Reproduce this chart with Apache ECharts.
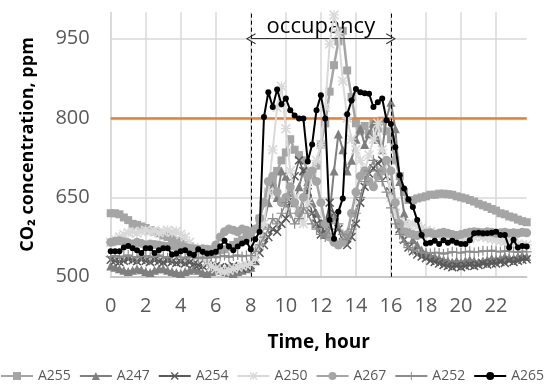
<!DOCTYPE html>
<html>
<head>
<meta charset="utf-8">
<script src="https://cdn.jsdelivr.net/npm/echarts@6/dist/echarts.min.js"></script>
<style>
  html, body { margin: 0; padding: 0; background: #fff; }
  #chart { width: 550px; height: 388px; }
</style>
</head>
<body>
<div id="chart"></div>
<script>
// 15-minute time slots, 0:00 .. 23:45
const times = [];
for (let h = 0; h < 24; h++) {
  ['00', '15', '30', '45'].forEach(m => times.push(h + ':' + m));
}
const hourTicks = ['0', '2', '4', '6', '8', '10', '12', '14', '16', '18', '20', '22'];
const occupancy = ['8:00', '16:00'];
const limitPpm = 800;

const rooms = ['A255', 'A247', 'A254', 'A250', 'A267', 'A252', 'A265'];

const a255 = [
  620, 620, 618, 612, 607, 600, 598, 595, 592, 588, 585, 582, 578, 575, 572, 568, 565, 560, 556, 552, 550, 548, 548, 546,
  548, 550, 552, 556, 560, 566, 570, 575, 580, 590, 610, 640, 660, 680, 700, 720, 735, 760, 740, 730, 720, 700, 690, 710,
  750, 790, 850, 900, 945, 965, 890, 840, 790, 775, 785, 770, 790, 780, 795, 775, 760, 720, 690, 660, 645, 645, 648, 650,
  652, 655, 655, 657, 657, 656, 655, 652, 650, 648, 645, 642, 638, 635, 632, 628, 625, 620, 618, 614, 612, 608, 605, 603
];
const a247 = [
  520, 518, 515, 512, 510, 512, 515, 513, 510, 508, 512, 515, 515, 512, 510, 508, 506, 510, 512, 515, 512, 508, 506, 510,
  512, 515, 510, 508, 506, 510, 512, 515, 518, 530, 560, 600, 640, 680, 650, 700, 690, 660, 640, 670, 700, 680, 640, 620,
  600, 580, 620, 700, 770, 740, 700, 720, 760, 780, 750, 770, 790, 760, 740, 800, 830, 780, 680, 620, 590, 570, 560, 550,
  545, 540, 538, 535, 532, 530, 528, 530, 528, 530, 532, 530, 528, 530, 532, 535, 533, 535, 538, 536, 535, 538, 540, 538
];
const a254 = [
  532, 530, 528, 530, 533, 531, 529, 532, 530, 528, 531, 529, 527, 530, 528, 526, 528, 525, 527, 524, 522, 520, 523, 521,
  520, 518, 515, 518, 520, 517, 515, 518, 522, 530, 545, 560, 575, 590, 585, 600, 610, 640, 690, 720, 700, 660, 620, 600,
  580, 600, 640, 620, 590, 565, 560, 575, 600, 640, 670, 695, 705, 715, 720, 690, 660, 620, 590, 570, 555, 548, 542, 538,
  535, 530, 528, 525, 522, 520, 518, 520, 518, 520, 522, 520, 522, 525, 523, 525, 525, 528, 526, 530, 528, 530, 532, 533
];
const a250 = [
  565, 570, 575, 580, 583, 585, 582, 586, 588, 585, 587, 583, 585, 588, 584, 586, 580, 575, 565, 555, 545, 535, 528, 520,
  515, 512, 510, 512, 515, 518, 520, 522, 525, 535, 560, 600, 660, 740, 820, 860, 780, 700, 650, 620, 600, 640, 700, 720,
  750, 820, 940, 995, 960, 870, 800, 760, 740, 720, 700, 730, 760, 790, 740, 700, 650, 620, 605, 600, 598, 600, 595, 592,
  588, 585, 582, 580, 578, 575, 572, 570, 570, 568, 572, 575, 578, 576, 574, 572, 570, 568, 566, 565, 564, 562, 560, 560
];
const a267 = [
  565, 567, 568, 566, 564, 562, 565, 563, 560, 562, 561, 560, 558, 557, 558, 556, 555, 556, 554, 553, 552, 553, 552, 551,
  560, 575, 585, 590, 588, 585, 590, 588, 585, 590, 610, 640, 680, 690, 660, 640, 650, 670, 640, 620, 650, 690, 700, 680,
  640, 600, 575, 565, 560, 565, 580, 620, 660, 690, 700, 680, 670, 690, 700, 720, 700, 640, 600, 585, 582, 580, 578, 580,
  582, 583, 580, 582, 584, 582, 580, 578, 580, 582, 584, 585, 584, 583, 585, 584, 582, 583, 584, 582, 583, 582, 584, 583
];
const a252 = [
  538, 540, 537, 539, 541, 538, 536, 539, 540, 537, 539, 541, 538, 536, 538, 540, 537, 535, 538, 536, 534, 537, 535, 538,
  536, 538, 540, 537, 539, 541, 538, 540, 540, 548, 560, 575, 590, 610, 600, 620, 640, 620, 600, 610, 630, 620, 600, 590,
  580, 575, 590, 610, 600, 580, 570, 590, 620, 650, 680, 700, 720, 700, 680, 660, 630, 600, 580, 565, 555, 550, 548, 546,
  545, 544, 546, 545, 543, 545, 547, 546, 545, 547, 548, 546, 547, 549, 548, 550, 548, 547, 549, 548, 547, 546, 548, 547
];
const a265 = [
  548, 548, 548, 555, 558, 554, 550, 545, 554, 554, 545, 550, 554, 554, 542, 544, 548, 550, 544, 541, 552, 547, 544, 545,
  547, 557, 568, 557, 550, 557, 563, 566, 552, 571, 585, 802, 849, 821, 854, 826, 837, 815, 805, 799, 799, 718, 750, 815,
  843, 799, 607, 572, 623, 648, 807, 833, 855, 849, 847, 846, 821, 830, 837, 796, 789, 745, 692, 667, 646, 632, 607, 579,
  563, 564, 568, 562, 569, 564, 568, 564, 562, 562, 569, 582, 583, 582, 582, 583, 585, 579, 579, 555, 570, 555, 558, 557
];

const values = [a255, a247, a254, a250, a267, a252, a265];

const X_PATH = 'path://M0,1.2L1.2,0L5,3.8L8.8,0L10,1.2L6.2,5L10,8.8L8.8,10L5,6.2L1.2,10L0,8.8L3.8,5Z';
const PLUS_PATH = 'path://M4.4,0H5.6V4.4H10V5.6H5.6V10H4.4V5.6H0V4.4H4.4Z';
const STAR_PATH = X_PATH + 'M4.4,0H5.6V4.4H10V5.6H5.6V10H4.4V5.6H0V4.4H4.4Z';
const OPEN_ARROW = 'path://M0,10L5,0L10,10L9,10.6L5,2.2L1,10.6Z';

const looks = [
  { color: '#a5a5a5', symbol: 'rect', size: 8, width: 2.5 },
  { color: '#7f7f7f', symbol: 'triangle', size: 9, width: 2 },
  { color: '#595959', symbol: X_PATH, size: 9, width: 1.5 },
  { color: '#d9d9d9', symbol: STAR_PATH, size: 10, width: 2 },
  { color: '#a5a5a5', symbol: 'circle', size: 9, width: 2.5 },
  { color: '#8c8c8c', symbol: PLUS_PATH, size: 10, width: 1.5 },
  { color: '#000000', symbol: 'circle', size: 6, width: 2 }
];

const series = rooms.map((name, i) => ({
  name,
  type: 'line',
  data: values[i],
  symbol: looks[i].symbol,
  symbolSize: looks[i].size,
  showAllSymbol: true,
  lineStyle: { color: looks[i].color, width: looks[i].width },
  itemStyle: { color: looks[i].color },
  z: 2 + i
}));

// limit line, occupancy boundaries and arrow go on the last series
const dashed = { color: '#000', width: 1, type: [4, 3] };
series[series.length - 1].markLine = {
  silent: true,
  animation: false,
  symbol: ['none', 'none'],
  label: { show: false },
  data: [
    { yAxis: limitPpm, lineStyle: { color: '#ED7D31', width: 2.5, type: 'solid' } },
    { xAxis: occupancy[0], lineStyle: dashed },
    { xAxis: occupancy[1], lineStyle: dashed },
    [
      {
        coord: [occupancy[0], 950],
        symbol: OPEN_ARROW,
        symbolSize: [11, 10],
        lineStyle: { color: '#333', width: 1, type: 'solid' },
        label: {
          show: true,
          position: 'insideMiddleTop',
          formatter: 'occupancy',
          color: '#000',
          fontFamily: 'Open Sans',
          fontSize: 22,
          distance: 1
        }
      },
      { coord: [occupancy[1], 950], symbol: OPEN_ARROW, symbolSize: [11, 10] }
    ]
  ]
};

const chart = echarts.init(document.getElementById('chart'), null, { renderer: 'canvas' });

chart.setOption({
  animation: false,
  textStyle: { fontFamily: 'Open Sans' },
  grid: { left: 110.7, right: 23.3, top: 12.3, bottom: 111.3 },
  legend: {
    data: rooms,
    left: 0,
    top: 369,
    padding: 0,
    itemWidth: 32,
    itemHeight: 10,
    itemGap: 8,
    textStyle: { color: '#595959', fontSize: 14, fontFamily: 'Open Sans' }
  },
  xAxis: {
    type: 'category',
    data: times,
    boundaryGap: false,
    name: 'Time, hour',
    nameLocation: 'middle',
    nameGap: 56,
    nameTextStyle: { color: '#000', fontWeight: 'bold', fontSize: 19, fontFamily: 'Open Sans' },
    axisLine: { lineStyle: { color: '#bfbfbf', width: 1.5 } },
    axisTick: { show: false },
    axisLabel: {
      interval: 7,
      color: '#595959',
      fontSize: 20,
      margin: 20,
      formatter: (v, idx) => hourTicks[idx / 8]
    },
    splitLine: { show: true, interval: 7, lineStyle: { color: '#d9d9d9', width: 1.5 } }
  },
  yAxis: {
    type: 'value',
    min: 500,
    max: 1000,
    interval: 150,
    name: 'CO\u2082 concentration, ppm',
    nameLocation: 'middle',
    nameGap: 74,
    nameTextStyle: { color: '#000', fontWeight: 'bold', fontSize: 18, fontFamily: 'Open Sans' },
    axisLine: { show: true, lineStyle: { color: '#d9d9d9', width: 1.5 } },
    axisTick: { show: false },
    axisLabel: { color: '#595959', fontSize: 20, margin: 21, showMaxLabel: false },
    splitLine: { show: true, showMaxLine: false, lineStyle: { color: '#d9d9d9', width: 1.5 } }
  },
  series
});
</script>
</body>
</html>
